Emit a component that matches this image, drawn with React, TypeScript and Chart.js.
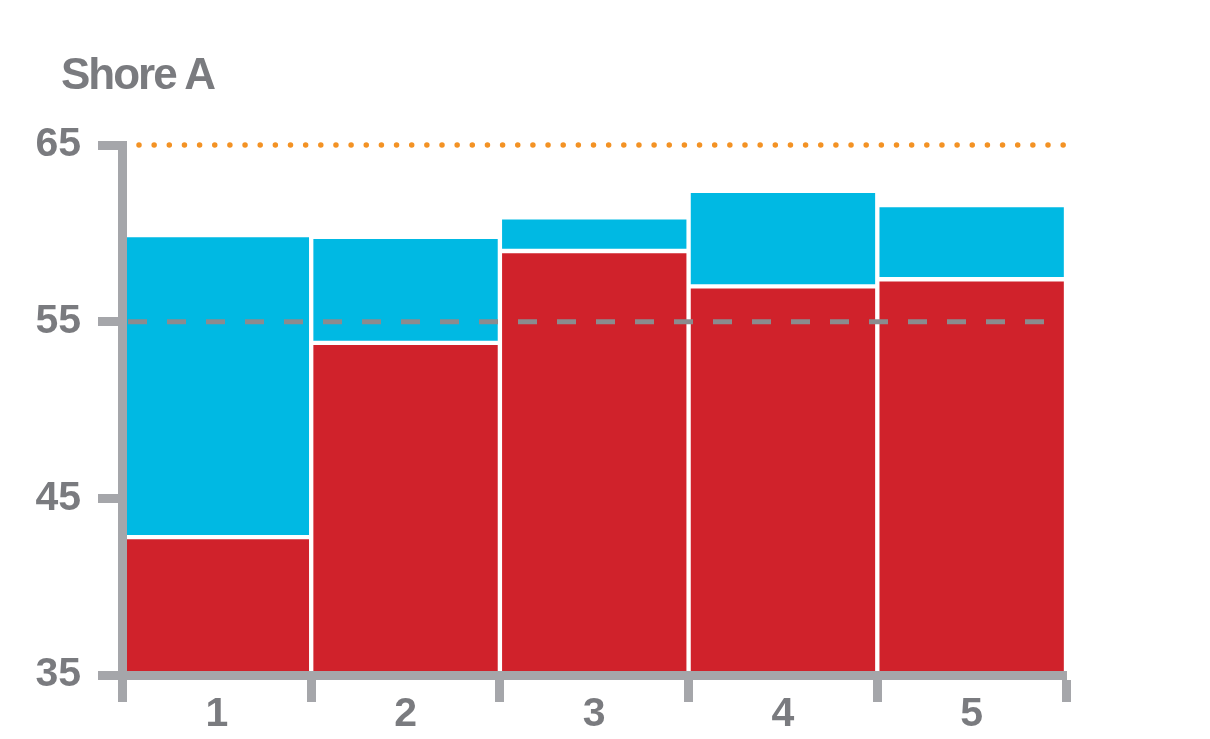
import React, { useEffect, useRef } from "react";
import { Chart, registerables } from "chart.js";

Chart.register(...registerables);

// samples along the x axis
const categories = ["1", "2", "3", "4", "5"];
// red part: from the axis floor up to this value
const lowerValues = [42.8, 53.8, 59.0, 57.0, 57.4];
// blue part: from the red top up to this value
const upperValues = [59.9, 59.8, 60.9, 62.4, 61.6];
const yTicks = [35, 45, 55, 65];
const upperLimit = 65;
const targetValue = 55;

const AXIS = "#a5a6aa";
const TEXT = "#7a7b7f";
const RED = "#d0222b";
const BLUE = "#00b9e3";

const limitLines = {
  id: "limitLines",
  afterDatasetsDraw(chart: Chart) {
    const { ctx, chartArea } = chart;
    const y = chart.scales.y;
    ctx.save();

    const yu = y.getPixelForValue(upperLimit);
    ctx.strokeStyle = "#f39224";
    ctx.lineWidth = 5.5;
    ctx.lineCap = "round";
    ctx.setLineDash([0, 15.15]);
    ctx.beginPath();
    ctx.moveTo(chartArea.left + 16.5, yu);
    ctx.lineTo(chartArea.right + 1, yu);
    ctx.stroke();

    const yt = y.getPixelForValue(targetValue);
    ctx.strokeStyle = "#8b8b8e";
    ctx.lineWidth = 5;
    ctx.lineCap = "butt";
    ctx.setLineDash([19, 20]);
    ctx.beginPath();
    ctx.moveTo(chartArea.left + 5.5, yt);
    ctx.lineTo(chartArea.right - 2, yt);
    ctx.stroke();

    ctx.restore();
  },
};

const ShoreChart = () => {
  const canvasRef = useRef<HTMLCanvasElement>(null);
  const chartRef = useRef<Chart | null>(null);

  useEffect(() => {
    if (!canvasRef.current) return;
    chartRef.current?.destroy();

    chartRef.current = new Chart(canvasRef.current, {
      type: "bar",
      data: {
        labels: categories,
        datasets: [
          {
            data: lowerValues,
            backgroundColor: RED,
            borderColor: "#ffffff",
            borderWidth: 2.5,
            borderSkipped: false,
          },
          {
            data: lowerValues.map((v, i) => [v, upperValues[i]]),
            backgroundColor: BLUE,
            borderColor: "#ffffff",
            borderWidth: 2.5,
            borderSkipped: false,
          },
        ],
      },
      options: {
        responsive: true,
        maintainAspectRatio: false,
        animation: false,
        grouped: false,
        barPercentage: 1,
        categoryPercentage: 1,
        layout: { padding: { left: 0, right: 136, top: 137, bottom: 0 } },
        plugins: {
          legend: { display: false },
          tooltip: { enabled: false },
        },
        scales: {
          x: {
            afterFit: (s) => {
              s.height = 56;
            },
            grid: {
              offset: true,
              drawOnChartArea: false,
              drawTicks: true,
              tickLength: 27,
              tickWidth: 9,
              tickColor: AXIS,
            },
            border: { display: true, color: AXIS, width: 9, z: 1 },
            ticks: {
              color: TEXT,
              padding: -12,
              font: { family: "'Liberation Sans', Arial, sans-serif", size: 41, weight: "bold" },
            },
          },
          y: {
            min: 35,
            max: 65,
            afterFit: (s) => {
              s.width = 114.5;
            },
            afterBuildTicks: (s) => {
              s.ticks = yTicks.map((v) => ({ value: v }));
            },
            grid: {
              drawOnChartArea: false,
              drawTicks: true,
              tickLength: 24.5,
              tickWidth: 9,
              tickColor: AXIS,
            },
            border: { display: true, color: AXIS, width: 9, z: 1 },
            ticks: {
              color: TEXT,
              padding: 17,
              font: { family: "'Liberation Sans', Arial, sans-serif", size: 41, weight: "bold" },
            },
          },
        },
      },
      plugins: [limitLines],
    });

    return () => chartRef.current?.destroy();
  }, []);

  return (
    <div style={{ position: "relative", width: 1194, height: 723 }}>
      <div
        style={{
          position: "absolute",
          left: 53,
          top: 44,
          fontFamily: "'Liberation Sans', Arial, sans-serif",
          fontWeight: "bold",
          fontSize: 44,
          lineHeight: "44px",
          letterSpacing: -2,
          color: TEXT,
        }}
      >
        Shore A
      </div>
      <canvas ref={canvasRef} />
    </div>
  );
};

export default function App() {
  return <ShoreChart />;
}
